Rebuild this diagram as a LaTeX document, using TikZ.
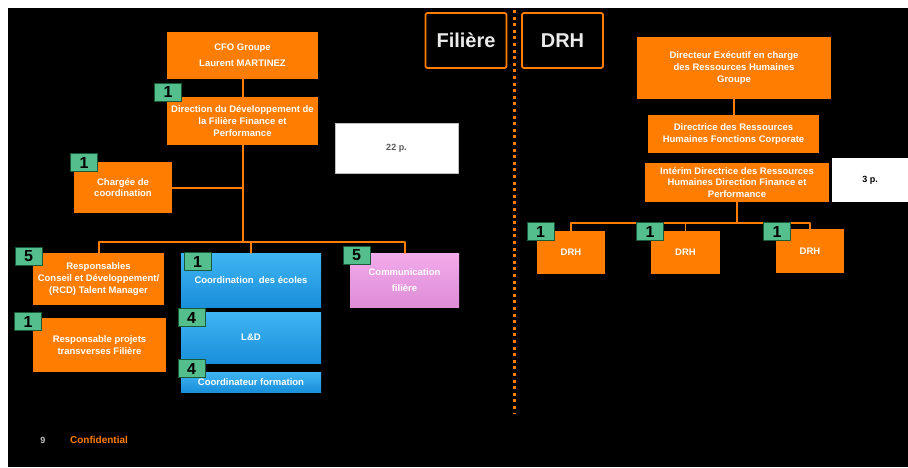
\documentclass[tikz,border=0pt]{standalone}
\usepackage{fontspec}
\setmainfont{Liberation Sans}
\definecolor{ffxfqq}{rgb}{1.0,0.49,0.0}
\definecolor{qqzzff}{rgb}{0.25,0.71,0.95}
\definecolor{qqccdd}{rgb}{0.10,0.56,0.86}
\definecolor{ffccff}{rgb}{0.95,0.67,0.92}
\definecolor{ddaadd}{rgb}{0.87,0.55,0.84}
\definecolor{ttccyy}{rgb}{0.33,0.75,0.55}
\definecolor{qqttqq}{rgb}{0.10,0.35,0.22}
\begin{document}
\begin{tikzpicture}[x=1pt,y=-1pt,line cap=round,line join=round,
  box/.style={fill=ffxfqq,text=white,align=center,inner sep=1pt,
    font=\fontsize{9.5}{11.8}\selectfont\bfseries},
  bluebox/.style={box,top color=qqzzff,bottom color=qqccdd},
  pinkbox/.style={box,top color=ffccff,bottom color=ddaadd},
  whitebox/.style={fill=white,draw=black!25,line width=1pt,text=black!65,
    font=\fontsize{9}{10}\selectfont\bfseries},
  header/.style={draw=ffxfqq,line width=1.8pt,rounded corners=2pt,fill=black,
    text=white!92!black,font=\fontsize{20}{22}\selectfont\bfseries,
    minimum width=81pt,minimum height=55pt},
  badge/.style={fill=ttccyy,draw=qqttqq,line width=0.8pt,text=black,inner sep=0pt,
    minimum width=27pt,minimum height=18pt,font=\fontsize{16}{16}\selectfont\bfseries},
  link/.style={draw=ffxfqq,line width=2pt},
  thinlink/.style={draw=ffxfqq,line width=1.4pt}]
\useasboundingbox (0,0) rectangle (908,467);
\fill[white] (0,0) rectangle (908,467);
\fill[black] (8,8) rectangle (908,467);

% Filiere
\node[box,minimum width=151pt,minimum height=47pt] (cfo) at (242.5,55.5) {CFO Groupe\\[4pt]Laurent MARTINEZ};
\node[box,minimum width=151pt,minimum height=48pt] (dev) at (242.5,121) {Direction du D\'eveloppement de\\la Fili\`ere Finance et\\Performance};
\node[box,minimum width=98pt,minimum height=51pt] (charg) at (123,187.5) {Charg\'ee de\\coordination};
\node[whitebox,minimum width=123pt,minimum height=50pt] (p22) at (396.5,148) {22 p.};
\node[box,minimum width=131pt,minimum height=52pt] (resp) at (98.5,279) {Responsables\\Conseil et D\'eveloppement/\\(RCD) Talent Manager};
\node[box,minimum width=133pt,minimum height=54pt] (projet) at (99.5,345) {Responsable projets\\transverses Fili\`ere};
\node[bluebox,minimum width=140pt,minimum height=54pt] (ecoles) at (251,280) {Coordination\ \ des \'ecoles};
\node[bluebox,minimum width=140pt,minimum height=51pt] (lnd) at (251,337.5) {L\&D};
\node[bluebox,minimum width=140pt,minimum height=20pt] (form) at (251,382) {Coordinateur formation};
\node[pinkbox,minimum width=109pt,minimum height=54pt] (comm) at (404.5,280) {Communication\\[4pt]fili\`ere};

\coordinate (busl) at (241,242);
\draw[link] (cfo) -- (dev);
\draw[link] (dev.south) -- (dev.south |- busl);
\draw[link] (charg.east) -- (charg.east -| dev.south);
\draw[link] (resp.north) |- (comm.north |- busl) -- (comm.north);
\draw[link] (ecoles.north) -- (ecoles.north |- busl);

\node[badge] (bdev) at (168,92) {1};
\node[badge] (bcharg) at (84,162.5) {1};
\node[badge] (bresp) at (28.5,256.5) {5};
\node[badge] (bprojet) at (28,321.5) {1};
\node[badge] (becoles) at (197.5,261.5) {1};
\node[badge] (blnd) at (191.5,317.5) {4};
\node[badge] (bform) at (191.5,368.5) {4};
\node[badge] (bcomm) at (356.5,255) {5};

% separation
\node[header] (filiere) at (466,40.5) {Fili\`ere};
\node[header] (drh) at (562.5,40.5) {DRH};
\coordinate (septop) at (514,10);
\coordinate (sepbot) at (514,413);
\draw[ffxfqq,line width=3pt,line cap=butt,dash pattern=on 3pt off 3.6pt] (septop) -- (sepbot);

% DRH
\node[box,minimum width=194pt,minimum height=62pt] (dirx) at (734,68) {Directeur Ex\'ecutif en charge\\des Ressources Humaines\\Groupe};
\node[box,minimum width=171pt,minimum height=38pt] (dirc) at (733.5,134) {Directrice des Ressources\\Humaines Fonctions Corporate};
\node[box,minimum width=184pt,minimum height=39pt] (interim) at (737,182.5) {Int\'erim Directrice des Ressources\\Humaines Direction Finance et\\Performance};
\node[whitebox,draw=none,text=black,minimum width=76pt,minimum height=44pt] (p3) at (870,180) {3 p.};
\node[box,minimum width=68pt,minimum height=43pt] (drh1) at (571,252.5) {DRH};
\node[box,minimum width=69pt,minimum height=43pt] (drh2) at (685.5,252.5) {DRH};
\node[box,minimum width=68pt,minimum height=44pt] (drh3) at (810,251) {DRH};

\coordinate (busr) at (737,223);
\draw[link] (dirx.south) -- (dirx.south |- dirc.north);
\draw[thinlink] (interim.south) -- (interim.south |- busr);
\draw[thinlink] (drh1.north) |- (drh3.north |- busr) -- (drh3.north);
\draw[thinlink] (drh2.north) -- (drh2.north |- busr);

\node[badge] (bdrh1) at (540.5,231.5) {1};
\node[badge] (bdrh2) at (650,231.5) {1};
\node[badge] (bdrh3) at (777,231.5) {1};

% pied de page
\node[text=white!75!black,font=\fontsize{9}{9}\selectfont\bfseries] (page) at (43,440) {9};
\node[text=ffxfqq,font=\fontsize{10}{10}\selectfont\bfseries] (conf) at (99,440) {Confidential};
\end{tikzpicture}
\end{document}
